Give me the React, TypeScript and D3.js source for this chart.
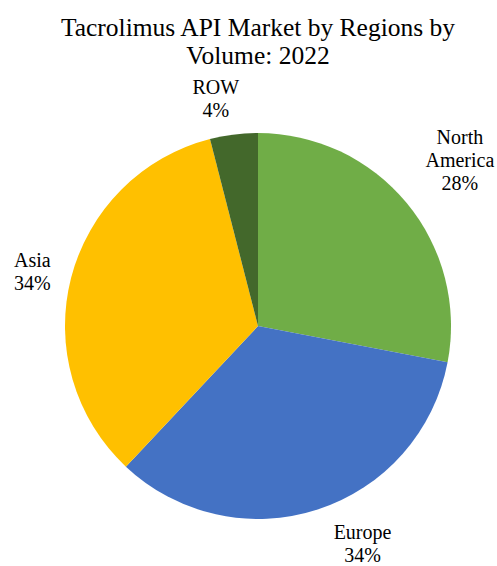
import React from "react";
import * as d3 from "d3";

const regions = ["North America", "Europe", "Asia", "ROW"];
const shares = [28, 34, 34, 4];
const colors = ["#70AD47", "#4472C4", "#FFC000", "#43682B"];
const labelLines = [["North", "America"], ["Europe"], ["Asia"], ["ROW"]];
const titleLines = ["Tacrolimus API Market by Regions by", "Volume: 2022"];

const W = 497;
const H = 566;
const cx = 258;
const cy = 326;
const R = 193;
const labelNudge: Record<string, [number, number]> = {
  "North America": [16, -12],
  Europe: [30, -12],
  Asia: [8, 5],
  ROW: [-12, 12],
};

export default function App() {
  const data = regions.map((name, i) => ({ name, value: shares[i], i }));
  const pie = d3.pie<any>().value((d) => d.value).sort(null);
  const arcs = pie(data);
  const arc = d3.arc<any>().innerRadius(0).outerRadius(R);
  const font = "'Liberation Serif', 'Times New Roman', 'DejaVu Serif', serif";
  const lh = 23;
  return (
    <svg
      width={W}
      height={H}
      style={{ position: "absolute", left: 0, top: 0, background: "#fff" }}
    >
      {titleLines.map((t, k) => (
        <text
          key={k}
          x={cx}
          y={36 + k * 28}
          textAnchor="middle"
          style={{ fontFamily: font }}
          fontSize={25.5}
          fill="#000"
        >
          {t}
        </text>
      ))}
      <g transform={`translate(${cx},${cy})`}>
        {arcs.map((a, k) => (
          <path key={k} d={arc(a) as string} fill={colors[a.data.i]} />
        ))}
        {arcs.map((a, k) => {
          const mid = (a.startAngle + a.endAngle) / 2;
          const rr = R * 1.25;
          const nd = labelNudge[a.data.name];
          const x = Math.sin(mid) * rr + nd[0];
          const y = -Math.cos(mid) * rr + nd[1];
          const lines = [...labelLines[a.data.i], `${a.data.value}%`];
          const n = lines.length;
          return (
            <text
              key={"l" + k}
              textAnchor="middle"
              style={{ fontFamily: font }}
              fontSize={20}
              fill="#000"
            >
              {lines.map((ln, j) => (
                <tspan
                  key={j}
                  x={x}
                  y={y + (j - (n - 1) / 2) * lh}
                  dominantBaseline="central"
                >
                  {ln}
                </tspan>
              ))}
            </text>
          );
        })}
      </g>
    </svg>
  );
}
